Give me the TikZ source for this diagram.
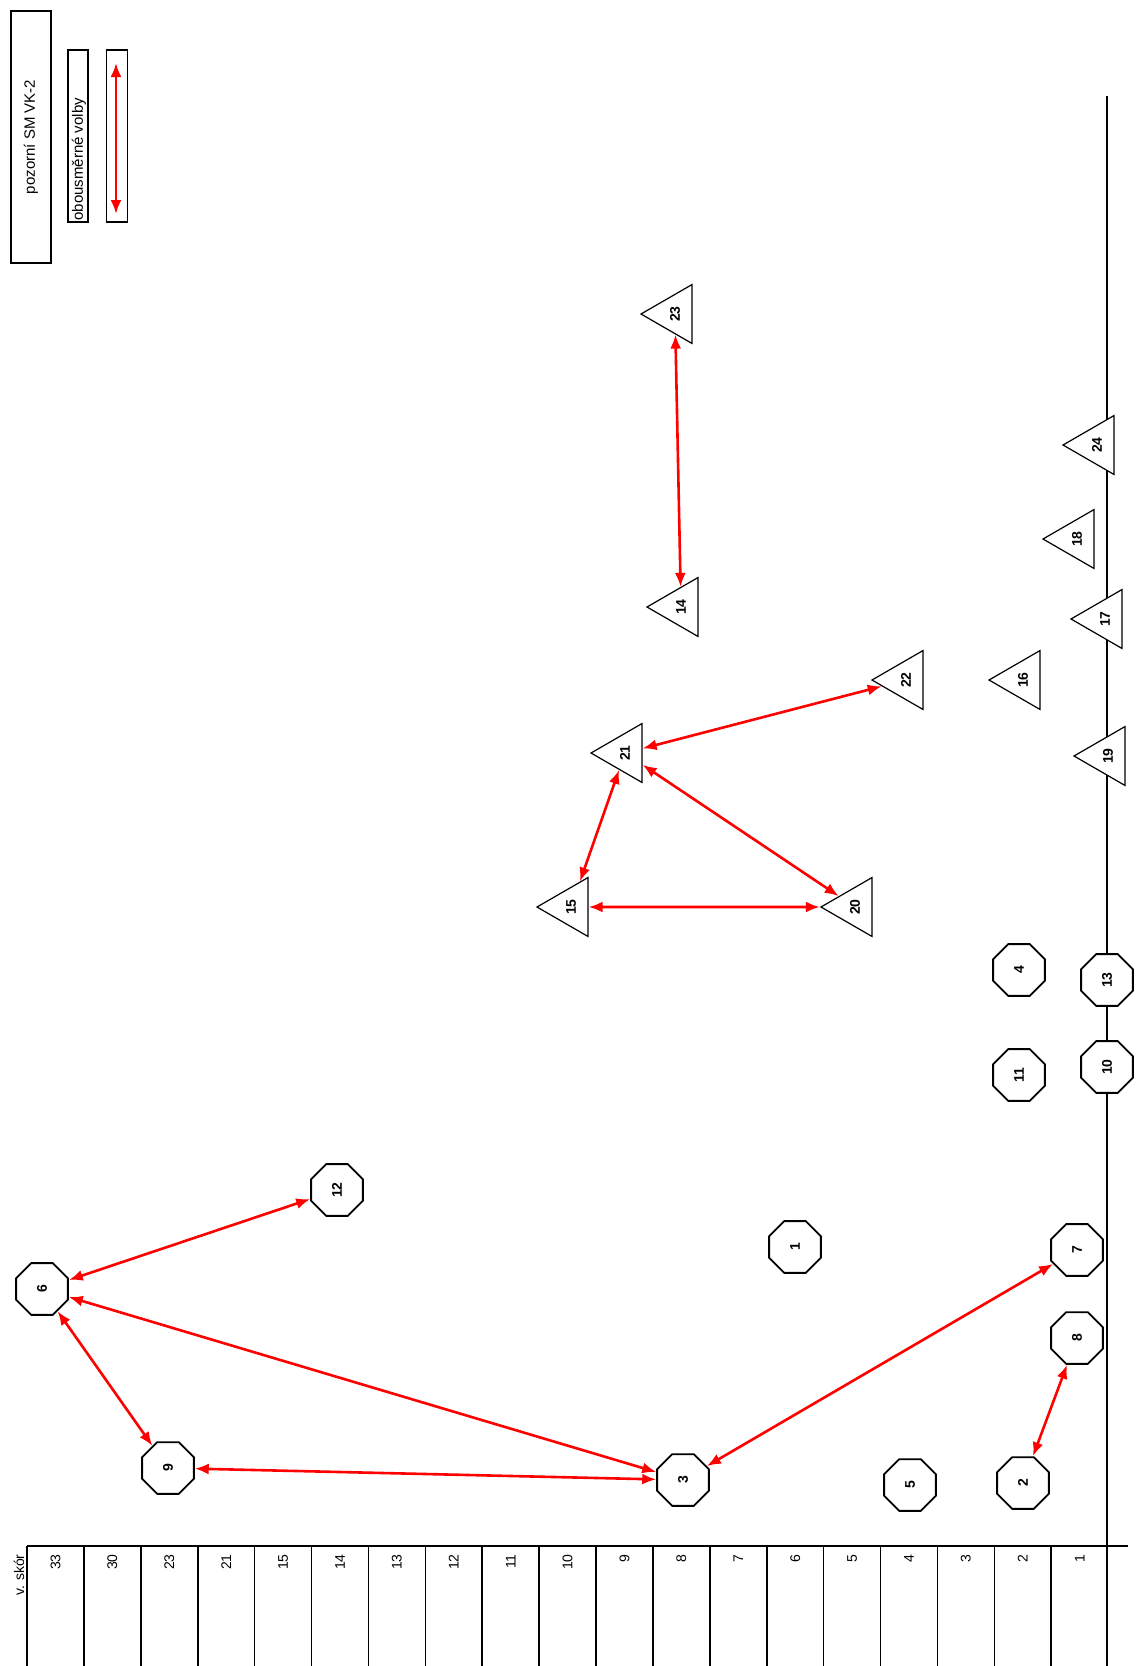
\documentclass[tikz,border=0pt]{standalone}
\usepackage{fontspec}
\setmainfont{Liberation Sans}
\usetikzlibrary{shapes.geometric,arrows.meta}

\begin{document}
\begin{tikzpicture}[
    x=0.5pt,
    y=-0.5pt,
    font=\fontsize{7}{8}\selectfont,
    boy/.style={draw, line width=0.9pt, fill=white, regular polygon, regular polygon sides=8,
        minimum size=28pt, inner sep=0pt, rotate=90, font=\fontsize{7}{8}\selectfont\bfseries},
    girl/.style={draw, line width=0.6pt, fill=white, regular polygon, regular polygon sides=3,
        minimum size=34pt, inner sep=0pt, rotate=90, font=\fontsize{7}{8}\selectfont\bfseries},
    mutual/.style={draw=red, line width=1.3pt,
        {Latex[length=7pt,width=5.5pt]}-{Latex[length=7pt,width=5.5pt]}},
    legendbox/.style={draw, line width=0.8pt, rotate=90, inner sep=0pt}
]
\useasboundingbox (0,0) rectangle (1140,1666);

\node[legendbox, minimum width=126pt, minimum height=20pt, font=\fontsize{7.5}{9}\selectfont]
    (title) at (31,137) {pozorní SM VK-2};
\node[legendbox, minimum width=86pt, minimum height=10pt] (keybox) at (78,136) {};
\node[rotate=90, anchor=west, inner sep=0pt, font=\fontsize{7.5}{9}\selectfont]
    (keytext) at (79,221) {obousměrné volby};
\node[legendbox, minimum width=86pt, minimum height=10.5pt] (arrowbox) at (117,136) {};
\coordinate (keytop) at (116,63);
\coordinate (keybot) at (116,214);
\draw[mutual] (keytop) -- (keybot);

\coordinate (axisL) at (27,1546);
\coordinate (axisR) at (1128,1546);
\coordinate (baseT) at (1107,96);
\coordinate (baseB) at (1107,1666);
\draw[line width=0.8pt] (axisL) -- (axisR);
\draw[line width=0.8pt] (baseT) -- (baseB);
\foreach \k in {0,...,18}
    \draw[line width=0.8pt] (27+56.9*\k,1546) -- (27+56.9*\k,1666);

\node[rotate=90, anchor=east, inner sep=1pt] (skor) at (19,1552) {v. skór};
\foreach \lbl [count=\k from 0] in {33,30,23,21,15,14,13,12,11,10,9,8,7,6,5,4,3,2,1}
    \node[rotate=90, anchor=east, inner sep=1pt] (s\lbl) at (55.5+56.9*\k,1552) {\lbl};

\node[boy] (n6) at (42,1289) {6};
\node[boy] (n12) at (337,1190) {12};
\node[boy] (n9) at (168,1468) {9};
\node[boy] (n3) at (683,1480) {3};
\node[boy] (n1) at (795,1247) {1};
\node[boy] (n5) at (910,1485) {5};
\node[boy] (n2) at (1023,1483) {2};
\node[boy] (n8) at (1077,1338) {8};
\node[boy] (n7) at (1077,1250) {7};
\node[boy] (n11) at (1019,1075) {11};
\node[boy] (n10) at (1107,1067) {10};
\node[boy] (n4) at (1019,970) {4};
\node[boy] (n13) at (1107,980) {13};

\node[girl] (n21) at (625,753) {21};
\node[girl] (n15) at (571,907) {15};
\node[girl] (n20) at (855,907) {20};
\node[girl] (n22) at (906,680) {22};
\node[girl] (n14) at (681,607) {14};
\node[girl] (n23) at (675,314) {23};
\node[girl] (n16) at (1023,680) {16};
\node[girl] (n17) at (1105,619) {17};
\node[girl] (n18) at (1077,539) {18};
\node[girl] (n24) at (1097,445) {24};
\node[girl] (n19) at (1108,756) {19};

\draw[mutual] (n6) -- (n12);
\draw[mutual] (n6) -- (n9);
\draw[mutual] (n6) -- (n3);
\draw[mutual] (n3) -- (n9);
\draw[mutual] (n3) -- (n7);
\draw[mutual] (n2) -- (n8);
\draw[mutual] (n21) -- (n22);
\draw[mutual] (n21) -- (n20);
\draw[mutual] (n21) -- (n15);
\draw[mutual] (n15) -- (n20);
\draw[mutual] (n23) -- (n14);
\end{tikzpicture}
\end{document}
